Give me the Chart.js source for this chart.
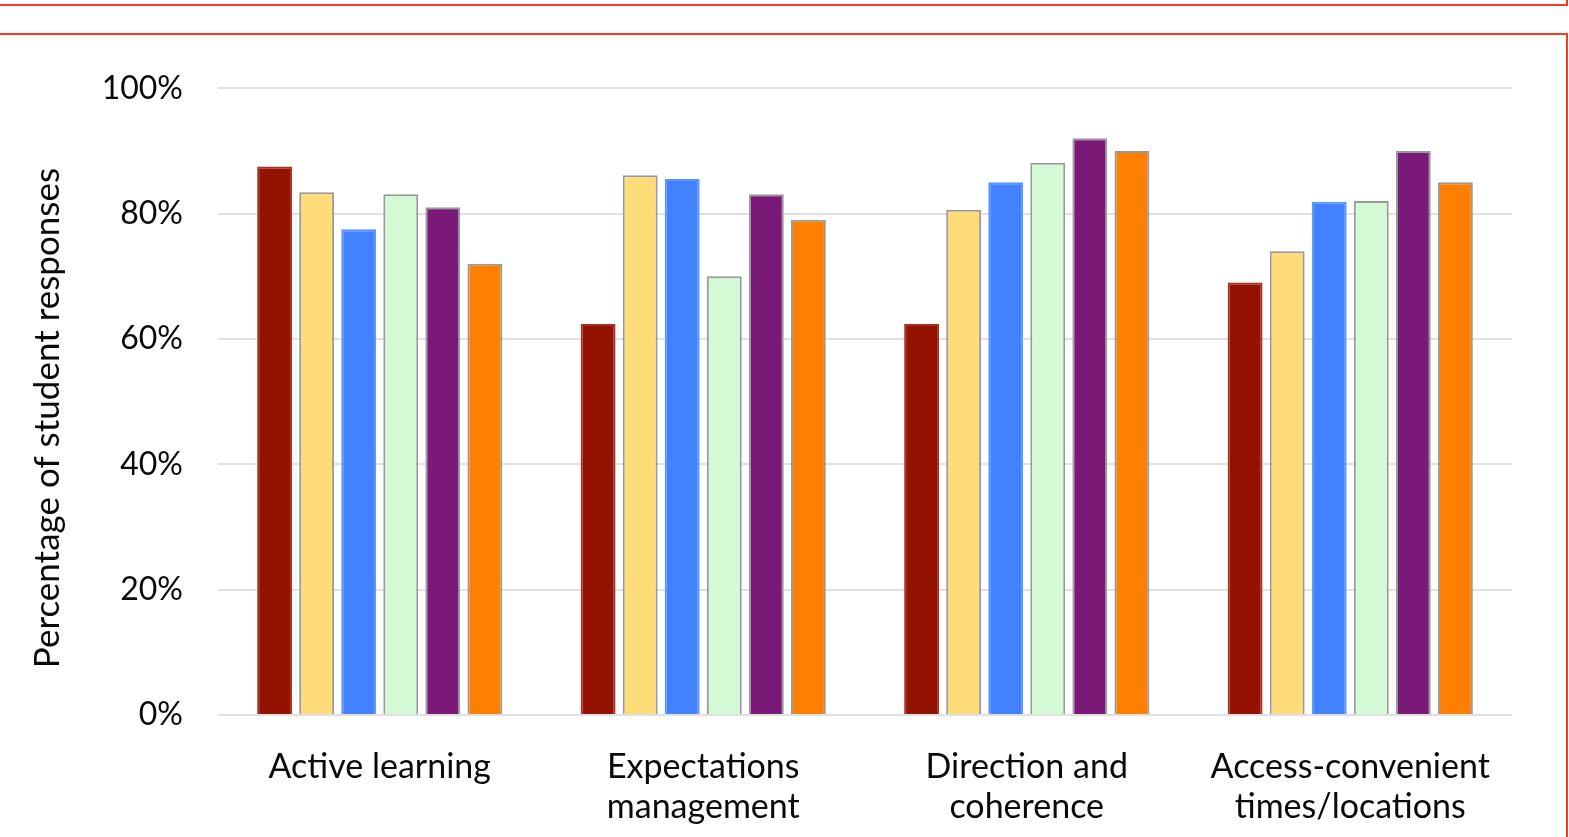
<!DOCTYPE html>
<html>
<head>
<meta charset="utf-8">
<script src="https://cdn.jsdelivr.net/npm/chart.js@4"></script>
<style>
  html, body { margin: 0; padding: 0; background: #fff; overflow: hidden; }
  body { width: 1569px; height: 837px; position: relative; }
  .frame { position: absolute; border: 2px solid #f63b1e; box-sizing: border-box; }
  #wrap { position: absolute; left: 0; top: 34px; width: 1569px; height: 803px; }
</style>
</head>
<body>
<div class="frame" style="left:-10px; top:-20px; width:1578px; height:26px;"></div>
<div class="frame" style="left:-10px; top:33px; width:1578px; height:840px;"></div>
<div id="wrap"><canvas id="myChart"></canvas></div>
<script>
const categories = [
  'Active learning',
  ['Expectations', 'management'],
  ['Direction and', 'coherence'],
  ['Access-convenient', 'times/locations']
]

const series1 = [87.5, 62.4, 62.4, 69.0]
const series2 = [83.4, 86.1, 80.6, 74.0]
const series3 = [77.5, 85.5, 85.0, 81.9]
const series4 = [83.1, 70.0, 88.1, 82.0]
const series5 = [81.0, 83.1, 92.0, 90.0]
const series6 = [72.0, 79.0, 90.0, 85.0]

const fills = ['#941200', '#fedc78', '#4282fe', '#d4fad5', '#7a1977', '#ff7f00']
const edges = ['#a8301f', '#999999', '#5a95ff', '#999999', '#999999', '#999999']

const allSeries = [series1, series2, series3, series4, series5, series6]

const fontFamily = 'Lato, "Open Sans", sans-serif'
const yTitle = 'Percentage of student responses'

// axis title drawn by hand so it can sit a little below the plot centre
const yTitlePlugin = {
  id: 'yTitle',
  afterDraw(chart) {
    const { ctx } = chart
    ctx.save()
    ctx.translate(48, 384)
    ctx.rotate(-Math.PI / 2)
    ctx.font = '35px ' + fontFamily
    ctx.fillStyle = '#0a0a0a'
    ctx.textAlign = 'center'
    ctx.textBaseline = 'middle'
    ctx.fillText(yTitle, 0, 0)
    ctx.restore()
  }
}

const ctx = document.getElementById('myChart')

new Chart(ctx, {
  type: 'bar',
  plugins: [yTitlePlugin],
  data: {
    labels: categories,
    datasets: allSeries.map((vals, i) => ({
      label: 'Series ' + (i + 1),
      data: vals,
      backgroundColor: fills[i],
      borderColor: edges[i],
      borderWidth: 2,
      categoryPercentage: 0.78,
      barPercentage: 0.83
    }))
  },
  options: {
    responsive: true,
    maintainAspectRatio: false,
    animation: false,
    layout: { padding: { top: 37, right: 57, left: 0, bottom: 0 } },
    plugins: {
      legend: { display: false },
      tooltip: { enabled: false }
    },
    scales: {
      x: {
        grid: { display: false },
        border: { display: false },
        ticks: {
          color: '#0a0a0a',
          font: { family: fontFamily, size: 34, lineHeight: 1.18 },
          padding: 24,
          maxRotation: 0
        },
        afterFit: (s) => { s.height = 122 }
      },
      y: {
        min: 0,
        max: 100,
        grid: { color: '#e1e1e1', lineWidth: 2, drawTicks: false },
        border: { display: false },
        ticks: {
          stepSize: 20,
          color: '#0a0a0a',
          font: { family: fontFamily, size: 32 },
          padding: 35,
          callback: (v) => v + '%'
        },
        afterFit: (s) => { s.width = 218 }
      }
    }
  }
})
</script>
</body>
</html>
